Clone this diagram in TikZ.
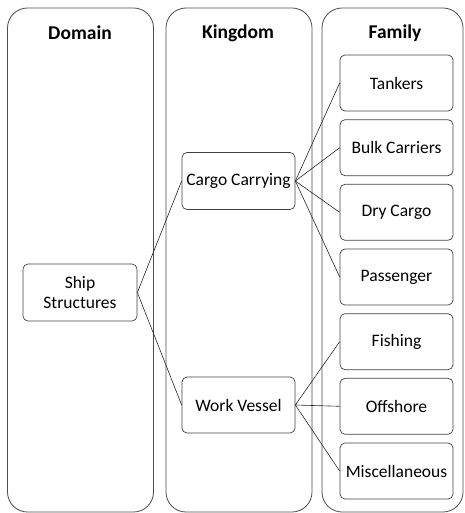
\documentclass[tikz,border=0pt]{standalone}
\usepackage{fontspec}
\setmainfont{Carlito}
\usetikzlibrary{positioning}

\begin{document}
\begin{tikzpicture}[x=1pt, y=-1pt,
  panel/.style={draw=black!70, rounded corners=20pt, minimum width=146pt,
                minimum height=504pt, inner sep=0pt, line width=0.8pt},
  hd/.style={font=\fontsize{19.5}{22}\selectfont\bfseries, inner sep=1pt},
  box/.style={draw=black!75, rounded corners=5pt, minimum width=113pt,
              minimum height=56pt, inner sep=1pt, align=center,
              font=\fontsize{17.5}{20}\selectfont, line width=0.7pt},
  link/.style={draw=black!85, line width=0.6pt},
]
\useasboundingbox (0,0) rectangle (464,513);

% Columns
\node[panel] (pdom) at (80.5,260) {};
\node[panel] (pking) at (239,260) {};
\node[panel, minimum width=141pt] (pfam) at (392.5,260) {};

\node[hd] (hdom)  at (80,33)  {Domain};
\node[hd] (hking) at (238,33) {Kingdom};
\node[hd] (hfam)  at (395,33) {Family};

% Domain + kingdom
\node[box, minimum width=114pt, minimum height=57pt] (ship) at (80,292.5) {Ship\\Structures};
\node[box, minimum height=57pt] (cargo) at (238.5,181) {Cargo Carrying};
\node[box] (work) at (238.5,405) {Work Vessel};

% Families
\node[box] (tank) at (396.5,83)    {Tankers};
\node[box] (bulk) at (396.5,147.7) {Bulk Carriers};
\node[box] (dry)  at (396.5,212.3) {Dry Cargo};
\node[box] (pass) at (396.5,277)   {Passenger};
\node[box] (fish) at (396.5,341.7) {Fishing};
\node[box] (off)  at (396.5,406.3) {Offshore};
\node[box] (misc) at (396.5,471)   {Miscellaneous};

\foreach \k in {cargo,work}{ \draw[link] (ship.east) -- (\k.west); }
\foreach \f in {tank,bulk,dry,pass}{ \draw[link] (cargo.east) -- (\f.west); }
\foreach \f in {fish,off,misc}{ \draw[link] (work.east) -- (\f.west); }
\end{tikzpicture}
\end{document}
